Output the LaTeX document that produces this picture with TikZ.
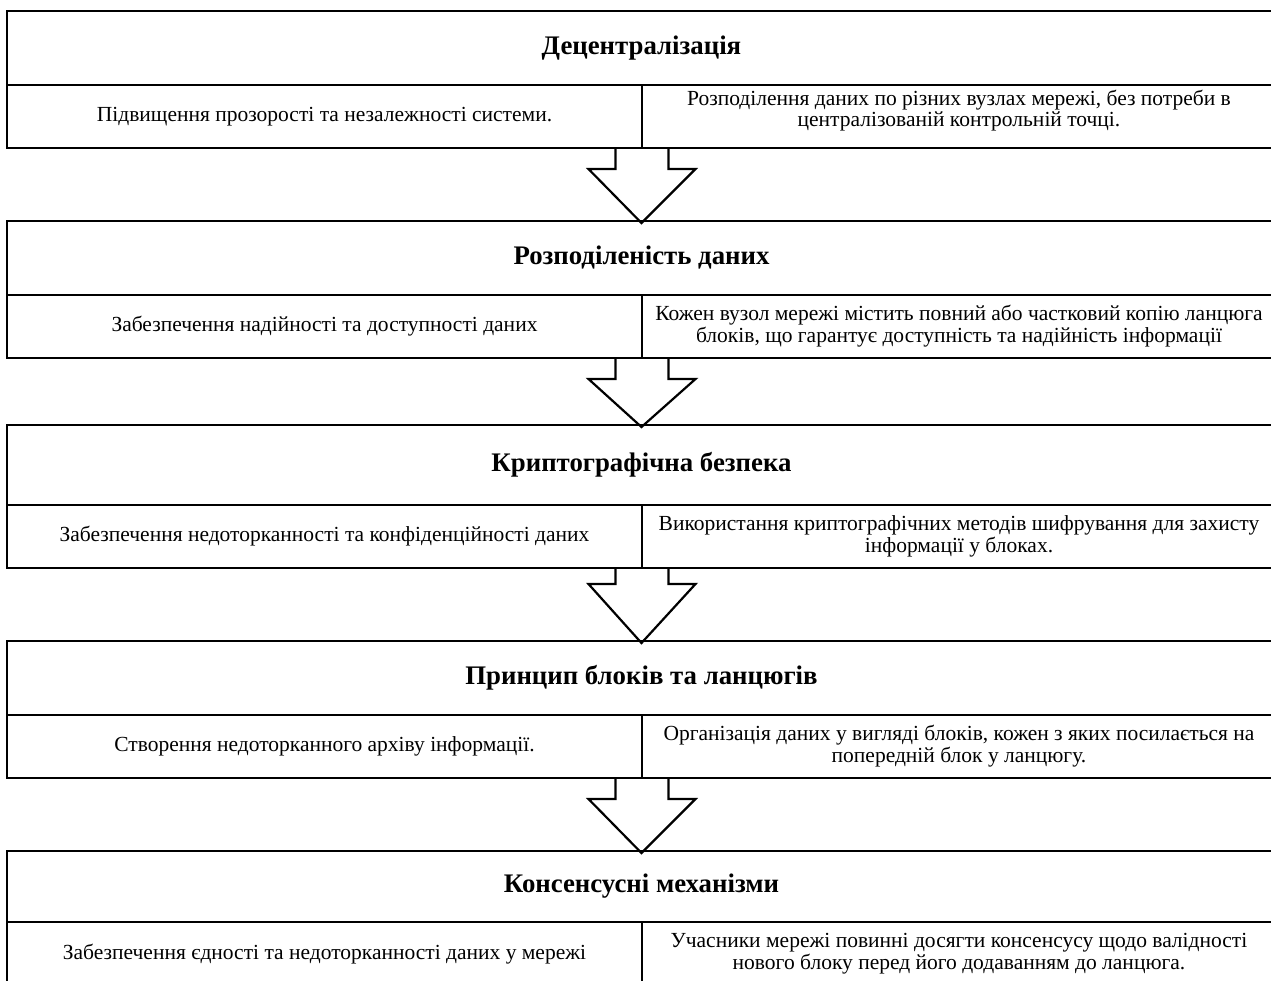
\documentclass[tikz,border=0pt]{standalone}
\usepackage{fontspec}
\setmainfont{Liberation Serif}
\usetikzlibrary{calc}
\newcommand\blk[8]{%
  \node[ttl, minimum width=634.5pt, minimum height=#3] (#1t) at (7,#2) {#5};
  \node[cell, minimum width=317.5pt, minimum height=#4] (#1l) at (#1t.south west) {#6};
  \node[cell, minimum width=317pt, minimum height=#4] (#1r) at (#1l.north east) {#7};
}
\newcommand\arr[3]{%
  \draw[bigarrow] let \p1=(#1l.south east), \p2=(#2t.north) in
    (\x1-13.25pt,\y1) -- (\x1-13.25pt,\y1-#3) -- (\x1-26.75pt,\y1-#3) --
    (\x1-0.25pt,\y2-1pt) -- (\x1+26.75pt,\y1-#3) -- (\x1+13.25pt,\y1-#3) -- (\x1+13.25pt,\y1);
}
\begin{document}
\begin{tikzpicture}[x=0.5pt,y=-0.5pt,
  cell/.style={draw, line width=1.1pt, inner sep=0pt, outer sep=0pt, anchor=north west, align=center,
    font=\fontsize{10.75}{9.6}\selectfont},
  ttl/.style={cell, font=\bfseries\fontsize{13.4}{15}\selectfont},
  txt/.style={inner sep=0pt, align=center, font=\fontsize{10.75}{9.6}\selectfont},
  bigarrow/.style={draw, line width=1.1pt, line join=miter}]
\useasboundingbox (0,0) rectangle (1271,981);
\fill[white] (0,0) rectangle (1271,981);
\blk{b1}{11}{37pt}{31.5pt}{Децентралізація}{Підвищення прозорості та незалежності системи.}{}{}
\node[txt] (t1r) at ([yshift=3pt]b1r.center) {Розподілення даних по різних вузлах мережі, без потреби в\\ централізованій контрольній точці.};
\blk{b2}{221}{37pt}{31.5pt}{Розподіленість даних}{Забезпечення надійності та доступності даних}{Кожен вузол мережі містить повний або частковий копію ланцюга\\ блоків, що гарантує доступність та надійність інформації}{}
\blk{b3}{425}{40pt}{31.5pt}{Криптографічна безпека}{Забезпечення недоторканності та конфіденційності даних}{Використання криптографічних методів шифрування для захисту\\ інформації у блоках.}{}
\blk{b4}{641}{37pt}{31.5pt}{Принцип блоків та ланцюгів}{Створення недоторканного архіву інформації.}{Організація даних у вигляді блоків, кожен з яких посилається на\\ попередній блок у ланцюгу.}{}
\blk{b5}{851}{35.5pt}{32pt}{Консенсусні механізми}{Забезпечення єдності та недоторканності даних у мережі}{Учасники мережі повинні досягти консенсусу щодо валідності\\ нового блоку перед його додаванням до ланцюга.}{}
\arr{b1}{b2}{10.5pt}
\arr{b2}{b3}{10.5pt}
\arr{b3}{b4}{8pt}
\arr{b4}{b5}{10.5pt}
\end{tikzpicture}
\end{document}
